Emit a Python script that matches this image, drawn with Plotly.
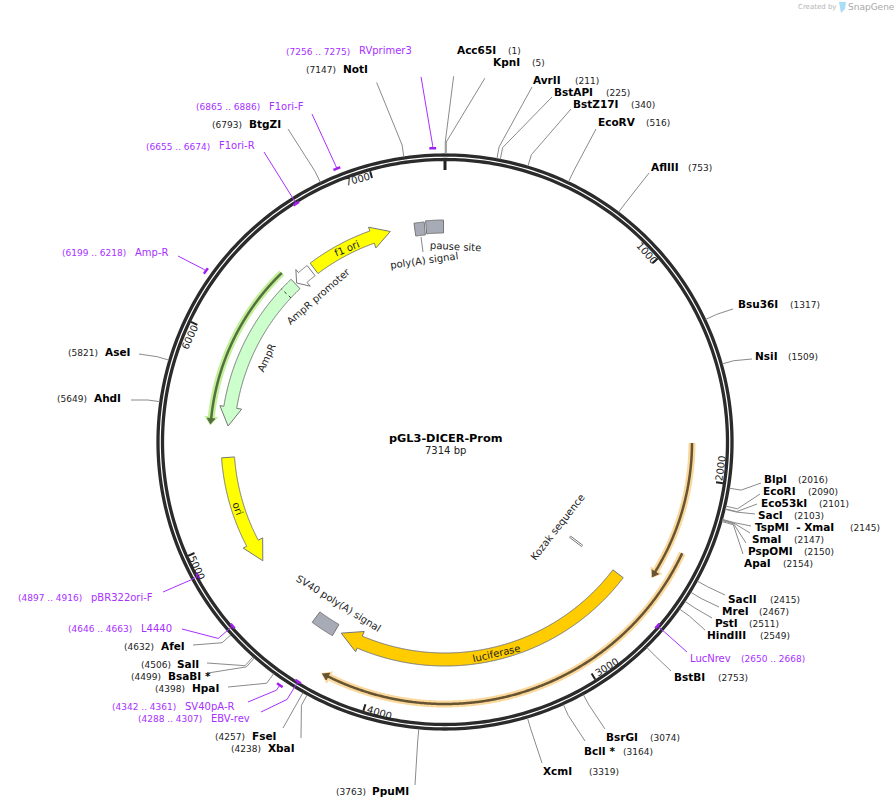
import numpy as np
import plotly.graph_objects as go

TOTAL_BP = 7314
PLASMID = "pGL3-DICER-Prom"
SIZE_TEXT = "7314 bp"

# restriction sites
SITE_NAMES = ["Acc65I", "KpnI", "AvrII", "BstAPI", "BstZ17I", "EcoRV", "AflIII", "Bsu36I", "NsiI",
              "BlpI", "EcoRI", "Eco53kI", "SacI", "TspMI  - XmaI", "SmaI", "PspOMI", "ApaI",
              "SacII", "MreI", "PstI", "HindIII", "BstBI", "BsrGI", "BclI *", "XcmI", "PpuMI",
              "FseI", "XbaI", "HpaI", "BsaBI *", "SalI", "AfeI", "AhdI", "AseI", "BtgZI", "NotI"]
SITE_BP = [1, 5, 211, 225, 340, 516, 753, 1317, 1509,
           2016, 2090, 2101, 2103, 2145, 2147, 2150, 2154,
           2415, 2467, 2511, 2549, 2753, 3074, 3164, 3319, 3763,
           4257, 4238, 4398, 4499, 4506, 4632, 5649, 5821, 6793, 7147]

# pixel layout of the site labels: name left edge, coordinate left edge, row, leader end
SITE_NAME_X = [457, 493, 533, 554, 573, 598, 651, 738, 755,
               764, 763, 761, 758, 755, 752, 748, 744,
               728, 722, 715, 707, 674, 606, 584, 543, 372,
               252, 268, 192, 168, 177, 161, 94, 105, 249, 343]
SITE_COORD_X = [508, 532, 575, 606, 631, 646, 688, 790, 788,
                798, 808, 819, 794, 850, 794, 804, 783,
                770, 759, 749, 760, 718, 650, 623, 589, 336,
                215, 231, 155, 131, 141, 124, 57, 68, 212, 306]
SITE_Y = [50, 62, 80, 92, 104, 122, 167, 304, 356,
          479, 491, 503, 515, 527, 539, 551, 563,
          599, 611, 623, 635, 677, 737, 751, 771, 791,
          736, 748, 688, 676, 664, 646, 398, 352, 124, 69]
LEADER_X = [456, 491, 532, 552, 571, 596, 649, 733, 752,
            761, 760, 757, 755, 751, 750, 746, 743,
            725, 719, 712, 705, 671, 605, 585, 542, 415,
            283, 301, 228, 208, 207, 193, 131, 139, 288, 374]
LEADER_Y = [58, 68, 87, 97, 109, 129, 173, 309, 359,
            483, 494, 504, 514, 526, 533, 543, 554,
            595, 607, 618, 630, 671, 729, 741, 763, 785,
            728, 738, 687, 673, 663, 645, 400, 354, 129, 76]

# primers
PRIMER_NAMES = ["RVprimer3", "F1ori-F", "F1ori-R", "Amp-R", "pBR322ori-F", "L4440",
                "SV40pA-R", "EBV-rev", "LucNrev"]
PRIMER_START = [7256, 6865, 6655, 6199, 4897, 4646, 4342, 4288, 2650]
PRIMER_END = [7275, 6886, 6674, 6218, 4916, 4663, 4361, 4307, 2668]
PRIMER_R = [294, 294, 281, 294, 281, 281, 294, 281, 281]
PRIMER_ELBOW = [297, 297, 290, 297, 289, 300, 300, 302, 290]
PRIMER_NAME_X = [359, 269, 219, 135, 91, 141, 185, 211, 690]
PRIMER_COORD_X = [286, 196, 146, 62, 18, 68, 112, 138, 741]
PRIMER_Y = [51, 106, 146, 252, 597, 628, 706, 718, 658]
PRIMER_LEADER_X = [418, 312, 264, 178, 163, 182, 248, 261, 687]
PRIMER_LEADER_Y = [59, 114, 152, 256, 592, 629, 702, 712, 652]

# features as arrows: tail bp, head base bp, tip bp, colour
ARROW_NAMES = ["f1 ori", "AmpR promoter", "AmpR", "ori", "luciferase"]
ARROW_TAIL = [6562, 6542, 6432, 5403, 2586]
ARROW_BASE = [6916, 6484, 5672, 4922, 4126]
ARROW_TIP = [7018, 6440, 5571, 4813, 4236]
ARROW_COLORS = ["#ffff00", "#ffffff", "#ccffcc", "#ffff00", "#ffcc00"]

# grey block features
BLOCK_NAMES = ["pause site", "poly(A) signal", "SV40 poly(A) signal", "Kozak sequence"]
BLOCK_START = [7212, 7150, 4270, 2577]
BLOCK_END = [7306, 7204, 4396, 2589]

# translation arrows just inside the ring
TRANS_START = [6420, 1833, 2339]
TRANS_END = [5570, 2505, 4228]
TRANS_R = [235, 247, 262]
TRANS_GLOW = ["#c2f19a", "#fbd89c", "#fbd89c"]
TRANS_CORE = ["#566f40", "#665433", "#665433"]

TICK_BP = [1000, 2000, 3000, 4000, 5000, 6000, 7000]
TICK_TEXT = ["1000", "2000", "3000", "4000", "5000", "6000", "7000"]
TICK_ANGLE = [49, -82, -32, 17, 66, -65, -15]
TICK_TEXT_X = [646, 721, 606, 379, 197, 190, 357]
TICK_TEXT_Y = [253, 469, 667, 712, 567, 338, 180]

CX, CY = 445, 442
HALF = 366
PURPLE = "#a82fff"
GREY = "#8a8a8a"


def deg(bp):
    return np.asarray(bp) * 360.0 / TOTAL_BP


def arc(a, b, r):
    n = max(2, int(abs(b - a) / 4) + 2)
    return list(deg(np.linspace(a, b, n))), [r] * n


def to_polar(x, y):
    dx, dy = x - CX, y - CY
    return np.degrees(np.arctan2(dx, -dy)) % 360, float(np.hypot(dx, dy))


def to_paper(x, y):
    return x / 896, 1 - y / 808


def label(text, x, y, size=10, color="#111111", bold=False, angle=0, anchor="left"):
    px, py = to_paper(x - 1 if anchor == "left" else x, y)
    fig.add_annotation(x=px, y=py, xref="paper", yref="paper", text=f"<b>{text}</b>" if bold else text,
                       showarrow=False, xanchor=anchor, yanchor="middle", textangle=angle,
                       borderpad=0, font=dict(family="DejaVu Sans", size=size, color=color))


def line(theta, r, color, width):
    fig.add_trace(go.Scatterpolar(theta=theta, r=r, mode="lines", cliponaxis=False, connectgaps=False,
                                  line=dict(color=color, width=width), hoverinfo="skip"))


def filled(theta, r, color, edge="#777777", width=1):
    fig.add_trace(go.Scatterpolar(theta=theta, r=r, mode="lines", fill="toself", fillcolor=color,
                                  cliponaxis=False, line=dict(color=edge, width=width), hoverinfo="skip"))


fig = go.Figure()

# backbone
ring_theta = list(np.arange(0, 361, 1.0))
line(ring_theta, [287] * len(ring_theta), "#2b2b2b", 3.3)
line(ring_theta, [282.5] * len(ring_theta), "#2b2b2b", 3.3)
line([0, 0], [281, 272], "#222222", 3)
for bp in TICK_BP:
    line([deg(bp), deg(bp)], [281, 274], "#222222", 2)

# site leaders
for bp, lx, ly in zip(SITE_BP, LEADER_X, LEADER_Y):
    t, r = to_polar(lx, ly)
    line([deg(bp), deg(bp), t], [288, 300, r], GREY, 1)

# primer marks and leaders
for s, e, pr, elbow, lx, ly in zip(PRIMER_START, PRIMER_END, PRIMER_R, PRIMER_ELBOW, PRIMER_LEADER_X, PRIMER_LEADER_Y):
    mid = (s + e) / 2
    t, r = to_polar(lx, ly)
    line([deg(mid), deg(mid), t], [pr, elbow, r], PURPLE, 1)
    th, rr = arc(s - 4, e + 4, pr)
    line(th, rr, "#a020f0", 2.5)

# translation arrows
for s, e, tr, glow, core in zip(TRANS_START, TRANS_END, TRANS_R, TRANS_GLOW, TRANS_CORE):
    step = 40 if e < s else -40
    th, rr = arc(s, e + step * 0.6, tr)
    line(th, rr, glow, 7)
    fig.add_trace(go.Scatterpolar(theta=[deg(e + step), deg(e + step), deg(e)], r=[tr - 6.5, tr + 6.5, tr],
                                  mode="lines", fill="toself", fillcolor=glow, cliponaxis=False,
                                  line=dict(color=glow, width=1), hoverinfo="skip"))
    line(th, rr, core, 2.5)
    filled([deg(e + step * 0.8), deg(e + step * 0.8), deg(e + step * 0.1)], [tr - 4, tr + 4, tr], core, core, 1)

# arrow features
for tail, base, tip, col in zip(ARROW_TAIL, ARROW_BASE, ARROW_TIP, ARROW_COLORS):
    t1, r1 = arc(tail, base, 224)
    t2, r2 = arc(base, tail, 211)
    filled(t1 + [deg(base), deg(tip), deg(base)] + t2 + [t1[0]],
           r1 + [228, 217.5, 206] + r2 + [224], col)

# divider inside AmpR
line([deg(6361), deg(6361)], [211, 224], "#333333", 1)
fig.data[-1].line.dash = "dot"

# grey blocks
for s, e, r_in, r_out in zip(BLOCK_START, BLOCK_END, [209, 208, 211, 157], [222, 221, 224, 172]):
    t1, r1 = arc(s, e, r_out)
    t2, r2 = arc(e, s, r_in)
    filled(t1 + t2 + [t1[0]], r1 + r2 + [r_out], "#a6abb5" if r_in > 200 else "#ffffff")

t, r = to_polar(421, 237)
t2, r2 = to_polar(423, 252)
line([t, t2], [r, r2], "#888888", 1)

fig.update_layout(
    width=896, height=808, autosize=False, showlegend=False,
    margin=dict(l=0, r=0, t=0, b=0), paper_bgcolor="white",
    polar=dict(
        domain=dict(x=[(CX - HALF) / 896, (CX + HALF) / 896], y=[0, 2 * HALF / 808]),
        bgcolor="rgba(0,0,0,0)",
        angularaxis=dict(visible=False, direction="clockwise", rotation=90, thetaunit="degrees"),
        radialaxis=dict(visible=False, range=[0, HALF]),
    ),
)

# text
for name, bp, nx, cx, y in zip(SITE_NAMES, SITE_BP, SITE_NAME_X, SITE_COORD_X, SITE_Y):
    label(name, nx, y, 10.5, "#000000", True)
    label(f"({bp})", cx, y + 1, 9, "#222222")

for name, s, e, nx, cx, y in zip(PRIMER_NAMES, PRIMER_START, PRIMER_END, PRIMER_NAME_X, PRIMER_COORD_X, PRIMER_Y):
    label(name, nx, y, 10, PURPLE)
    label(f"({s} .. {e})", cx, y + 1, 9, PURPLE)

for txt, x, y, ang in zip(TICK_TEXT, TICK_TEXT_X, TICK_TEXT_Y, TICK_ANGLE):
    label(txt, x, y, 10, "#222222", angle=ang, anchor="center")

FEATURE_TEXT = ARROW_NAMES + BLOCK_NAMES
FEATURE_TEXT_X = [347, 318, 267, 238, 496, 455, 424, 339, 557]
FEATURE_TEXT_Y = [249, 296, 358, 508, 653, 246, 261, 603, 527]
FEATURE_TEXT_ANGLE = [-23, -41, -65, 70, -13, 3, -8, 32, -52]
for txt, x, y, ang in zip(FEATURE_TEXT, FEATURE_TEXT_X, FEATURE_TEXT_Y, FEATURE_TEXT_ANGLE):
    label(txt, x, y, 10, "#222222", angle=ang, anchor="center")

label(PLASMID, 445, 438, 11.3, "#000000", True, anchor="center")
label(SIZE_TEXT, 445, 450, 10, "#222222", anchor="center")

# SnapGene mark, top right
label("Created by", 798, 7, 7, "#b5b5b5")
label("SnapGene", 848, 7, 9, "#a8a8a8")
fig.add_shape(type="path", xref="paper", yref="paper", line_width=0, fillcolor="#a9dcf5",
              path="M {} {} L {} {} L {} {} L {} {} Z".format(*to_paper(839, 2), *to_paper(846, 2),
                                                               *to_paper(845, 9), *to_paper(841, 13)))

fig.write_html("out.html", config={"displayModeBar": False},
               post_script="document.body.style.margin='0';document.documentElement.style.overflow='hidden';")
